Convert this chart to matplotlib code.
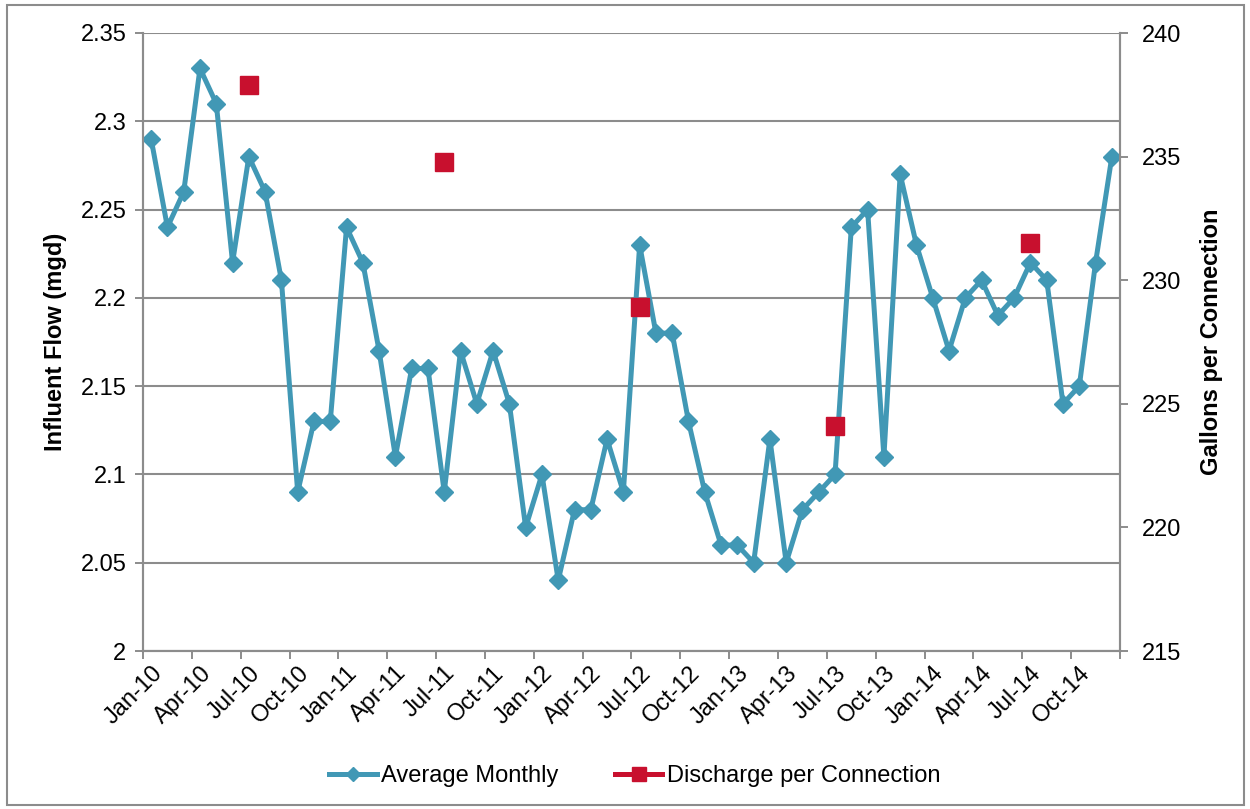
import numpy as np
import matplotlib
matplotlib.use("Agg")
import matplotlib.pyplot as plt
from matplotlib.patches import Rectangle

plt.rcParams['font.family'] = ['Liberation Sans', 'DejaVu Sans']

years = ['10', '11', '12', '13', '14']
months = ['Jan', 'Feb', 'Mar', 'Apr', 'May', 'Jun', 'Jul', 'Aug', 'Sep', 'Oct', 'Nov', 'Dec']
categories = [f"{m}-{y}" for y in years for m in months]

average_monthly = [
    2.29, 2.24, 2.26, 2.33, 2.31, 2.22, 2.28, 2.26, 2.21, 2.09, 2.13, 2.13,
    2.24, 2.22, 2.17, 2.11, 2.16, 2.16, 2.09, 2.17, 2.14, 2.17, 2.14, 2.07,
    2.10, 2.04, 2.08, 2.08, 2.12, 2.09, 2.23, 2.18, 2.18, 2.13, 2.09, 2.06,
    2.06, 2.05, 2.12, 2.05, 2.08, 2.09, 2.10, 2.24, 2.25, 2.11, 2.27, 2.23,
    2.20, 2.17, 2.20, 2.21, 2.19, 2.20, 2.22, 2.21, 2.14, 2.15, 2.22, 2.28,
]
discharge_months = ['Jul-10', 'Jul-11', 'Jul-12', 'Jul-13', 'Jul-14']
discharge_values = [237.9, 234.8, 228.9, 224.1, 231.5]

left_ticks = [2, 2.05, 2.1, 2.15, 2.2, 2.25, 2.3, 2.35]
left_labels = ['2', '2.05', '2.1', '2.15', '2.2', '2.25', '2.3', '2.35']
right_ticks = [215, 220, 225, 230, 235, 240]

BLUE = '#4198B5'
RED = '#C8102E'
GRAY = '#8C8C8C'
FS = 17

fig = plt.figure(figsize=(12.5, 8.09), dpi=100)
ax = fig.add_axes([143/1250, 1-651/809, (1120-143)/1250, (651-33)/809])
ax2 = ax.twinx()

x = np.arange(len(categories))
disc = np.full(len(categories), np.nan)
for m, v in zip(discharge_months, discharge_values):
    disc[categories.index(m)] = v

l1, = ax.plot(x, average_monthly, color=BLUE, lw=3.6, marker='D', ms=9.5,
              mec=BLUE, mfc=BLUE, label='Average Monthly', zorder=3)
l2, = ax2.plot(x, disc, color=RED, lw=3.6, marker='s', ms=13, mec=RED, mfc=RED,
               label='Discharge per Connection', zorder=3)

ax.set_xlim(-0.5, len(categories) - 0.5)
ax.set_ylim(2, 2.35)
ax2.set_ylim(215, 240)

ax.set_yticks(left_ticks)
ax.set_yticklabels(left_labels, fontsize=FS)
ax2.set_yticks(right_ticks)
ax2.set_yticklabels([str(t) for t in right_ticks], fontsize=FS)

ax.set_xticks(x[::3])
ax.set_xticklabels(categories[::3], rotation=45, ha='right', va='top',
                   rotation_mode='anchor', fontsize=FS)
ax.set_xticks(np.arange(-0.5, len(categories), 3), minor=True)
ax.tick_params(axis='x', which='major', length=0, pad=8)
ax.tick_params(axis='x', which='minor', length=6, width=1.4, color=GRAY, direction='out')
ax.tick_params(axis='y', length=6, width=1.4, color=GRAY, pad=6)
ax2.tick_params(axis='y', length=6, width=1.4, color=GRAY, pad=10)

ax.grid(axis='y', color=GRAY, lw=1.5)
ax.set_axisbelow(True)
for a in (ax, ax2):
    a.spines['top'].set_visible(False)
    for s in ('left', 'right', 'bottom'):
        a.spines[s].set_color(GRAY)
        a.spines[s].set_linewidth(1.5)

ax.set_ylabel('Influent Flow (mgd)', fontsize=FS, fontweight='bold', labelpad=10)
ax2.set_ylabel('Gallons per Connection', fontsize=FS, fontweight='bold', labelpad=13)

leg = fig.legend(handles=[l1, l2], loc='center', bbox_to_anchor=(635/1250, 1-776/809),
                 ncol=2, frameon=False, fontsize=FS, handlelength=2.0,
                 columnspacing=2.4, handletextpad=0.2, markerscale=0.8)

fig.patches.append(Rectangle((7/1250, 1-805/809), (1244-7)/1250, (805-5)/809,
                             transform=fig.transFigure, fill=False,
                             edgecolor=GRAY, lw=1.5))

fig.savefig('out.png', dpi=100)
